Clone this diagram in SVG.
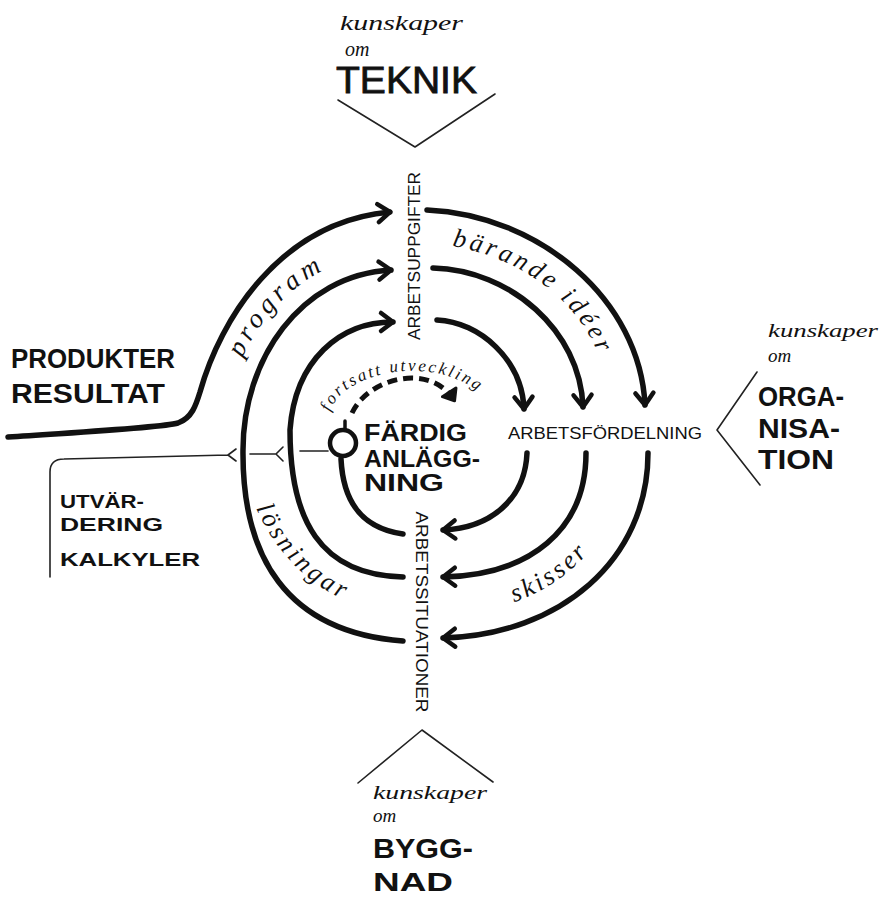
<svg xmlns="http://www.w3.org/2000/svg" width="887" height="898" viewBox="0 0 887 898">
<style>
.arc{fill:none;stroke:#111;stroke-width:5.5;stroke-linecap:round;marker-end:url(#ah)}
.plain{fill:none;stroke:#111;stroke-width:5.5;stroke-linecap:round}
.thin{fill:none;stroke:#222;stroke-width:1.6;stroke-linecap:round;stroke-linejoin:round}
.hand{font-family:"Liberation Serif","DejaVu Serif",serif;font-style:italic;fill:#111}
.caps{font-family:"Liberation Sans","DejaVu Sans",sans-serif;font-weight:bold;fill:#111}
.lab{font-family:"Liberation Sans","DejaVu Sans",sans-serif;fill:#111}
</style>
<defs>
<marker id="ah" markerUnits="userSpaceOnUse" markerWidth="30" markerHeight="30" orient="auto" overflow="visible">
<path d="M -12,-9 L 0,0 L -12,9" fill="none" stroke="#111" stroke-width="4.5" stroke-linecap="round" stroke-linejoin="round"/>
</marker>
<marker id="ahd" markerUnits="userSpaceOnUse" markerWidth="30" markerHeight="30" orient="auto" overflow="visible">
<path d="M -9,-8 L 1,0 L -9,8 Z" fill="#111" stroke="#111" stroke-width="3" stroke-linejoin="round"/>
</marker>
<path id="pProgram" d="M 242,358 C 264,312 300,274 354,258"/>
<path id="pBarande" d="M 452,246 C 522,258 584,302 604,370"/>
<path id="pSkisser" d="M 514,602 C 545,592 577,570 600,538"/>
<path id="pLosningar" d="M 256,508 C 278,558 320,598 376,610"/>
<path id="pFortsatt" d="M 330,412 C 343,370 442,350 490,402"/>
</defs>

<g id="connectors">
<path class="arc" d="M 8,437 C 80,432 160,428 178,423 C 192,418 196,405 200,392 C 220,320 280,222 390,212"/>
<path class="arc" d="M 403,641 C 285,632 242,555 243,450 C 243,360 300,275 391,270"/>
<path class="arc" d="M 403,577 C 320,575 290,520 290,430 C 295,360 340,322 393,322"/>
<path class="plain" d="M 341,459 C 343,500 360,528 403,534"/>
<path class="arc" d="M 427,210 C 540,215 640,300 645,405"/>
<path class="arc" d="M 433,268 C 510,270 580,330 583,407"/>
<path class="arc" d="M 437,320 C 480,322 522,360 524,409"/>
<path class="arc" d="M 527,453 C 525,500 490,528 443,530"/>
<path class="arc" d="M 586,453 C 586,530 530,575 443,577"/>
<path class="arc" d="M 648,453 C 648,560 560,635 443,638"/>
<path d="M 352,413 C 368,378 430,362 454,400" fill="none" stroke="#111" stroke-width="5" stroke-dasharray="10 6" marker-end="url(#ahd)"/>
<path class="thin" d="M 50,577 L 50,472 Q 50,459 64,459 L 228,455 M 236,449 L 228,455 L 236,461"/>
<path class="thin" d="M 250,454 L 276,454 M 283,447 L 276,454 L 283,461"/>
<path class="thin" d="M 300,451 L 328,451"/>
<path class="thin" d="M 338,100 L 415,147 L 495,94"/>
<path class="thin" d="M 757,372 L 717,430 L 760,485"/>
<path class="thin" d="M 358,783 L 422,730 L 493,782"/>
</g>

<g id="node-center">
<circle cx="343" cy="443" r="13" fill="none" stroke="#111" stroke-width="4.5"/>
<path d="M 345,430 L 345,421" stroke="#111" stroke-width="3.5" stroke-linecap="round"/>
<text class="caps" x="364" y="441" font-size="23" textLength="103" lengthAdjust="spacingAndGlyphs">FÄRDIG</text>
<text class="caps" x="364" y="467" font-size="23" textLength="116" lengthAdjust="spacingAndGlyphs">ANLÄGG-</text>
<text class="caps" x="364" y="491" font-size="23" textLength="80" lengthAdjust="spacingAndGlyphs">NING</text>
<text class="hand" font-size="17"><textPath href="#pFortsatt" letter-spacing="2.4">fortsatt utveckling</textPath></text>
</g>

<g id="node-arbetsuppgifter">
<text class="lab" transform="translate(420,256) rotate(-90)" x="0" y="0" font-size="16" text-anchor="middle" textLength="168" lengthAdjust="spacingAndGlyphs">ARBETSUPPGIFTER</text>
</g>
<g id="node-arbetsfordelning">
<text class="lab" x="508" y="439" font-size="17" textLength="194" lengthAdjust="spacingAndGlyphs">ARBETSFÖRDELNING</text>
</g>
<g id="node-arbetssituationer">
<text class="lab" transform="translate(416,612) rotate(90)" x="0" y="0" font-size="17" text-anchor="middle" textLength="201" lengthAdjust="spacingAndGlyphs">ARBETSSITUATIONER</text>
</g>

<g id="node-teknik">
<text class="hand" x="340" y="30" font-size="21" textLength="123" lengthAdjust="spacingAndGlyphs">kunskaper</text>
<text class="hand" x="345" y="56" font-size="20">om</text>
<text class="lab" x="336" y="93" font-size="36" textLength="141" lengthAdjust="spacingAndGlyphs" stroke="#111" stroke-width="0.8">TEKNIK</text>
</g>

<g id="node-organisation">
<text class="hand" x="768" y="337" font-size="19" textLength="110" lengthAdjust="spacingAndGlyphs">kunskaper</text>
<text class="hand" x="768" y="362" font-size="19">om</text>
<text class="caps" x="758" y="406" font-size="27" textLength="86" lengthAdjust="spacingAndGlyphs">ORGA-</text>
<text class="caps" x="758" y="438" font-size="27" textLength="82" lengthAdjust="spacingAndGlyphs">NISA-</text>
<text class="caps" x="758" y="469" font-size="27" textLength="76" lengthAdjust="spacingAndGlyphs">TION</text>
</g>

<g id="node-byggnad">
<text class="hand" x="373" y="799" font-size="19" textLength="114" lengthAdjust="spacingAndGlyphs">kunskaper</text>
<text class="hand" x="373" y="822" font-size="19">om</text>
<text class="caps" x="373" y="858" font-size="27" textLength="100" lengthAdjust="spacingAndGlyphs">BYGG-</text>
<text class="caps" x="373" y="891" font-size="26" textLength="80" lengthAdjust="spacingAndGlyphs">NAD</text>
</g>

<g id="node-produkter">
<text class="caps" x="11" y="368" font-size="27" textLength="164" lengthAdjust="spacingAndGlyphs">PRODUKTER</text>
<text class="caps" x="11" y="403" font-size="27" textLength="154" lengthAdjust="spacingAndGlyphs">RESULTAT</text>
</g>

<g id="node-utvardering">
<text class="caps" x="60" y="508" font-size="19" textLength="84" lengthAdjust="spacingAndGlyphs">UTVÄR-</text>
<text class="caps" x="60" y="531" font-size="19" textLength="103" lengthAdjust="spacingAndGlyphs">DERING</text>
<text class="caps" x="60" y="566" font-size="19" textLength="140" lengthAdjust="spacingAndGlyphs">KALKYLER</text>
</g>

<g id="labels">
<text class="hand" font-size="27"><textPath href="#pProgram" letter-spacing="4.5">program</textPath></text>
<text class="hand" font-size="26"><textPath href="#pBarande" letter-spacing="3.5">bärande idéer</textPath></text>
<text class="hand" font-size="26"><textPath href="#pSkisser" letter-spacing="3">skisser</textPath></text>
<text class="hand" font-size="26"><textPath href="#pLosningar" letter-spacing="3.5">lösningar</textPath></text>
</g>
</svg>
